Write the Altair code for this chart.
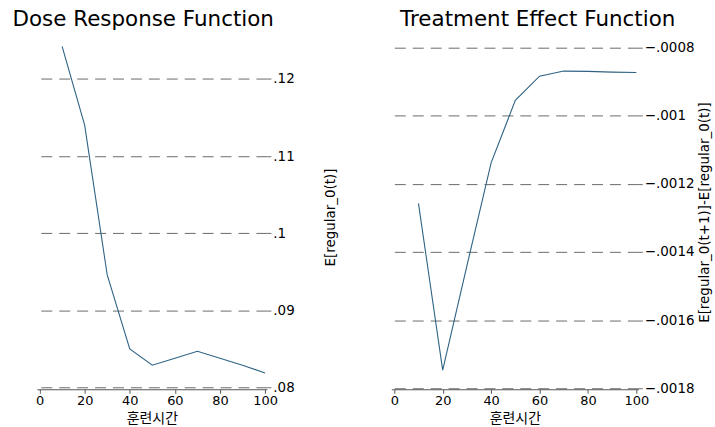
import altair as alt
import pandas as pd

# training hours (x) and estimated responses
hours = [10, 20, 30, 40, 50, 60, 70, 80, 90, 100]
dose_response = [0.1242, 0.1140, 0.0946, 0.0850, 0.0829, 0.0838, 0.0847, 0.0838, 0.0829, 0.0819]
treatment_effect = [-0.001258, -0.001747, -0.001441, -0.001139, -0.000956,
                    -0.000885, -0.000870, -0.000871, -0.000873, -0.000874]

x_ticks = [0, 20, 40, 60, 80, 100]
dose_ticks = [0.08, 0.09, 0.10, 0.11, 0.12]
effect_ticks = [-0.0018, -0.0016, -0.0014, -0.0012, -0.0010, -0.0008]

df = pd.DataFrame({"t": hours, "dose": dose_response, "effect": treatment_effect})

FONT = "DejaVu Sans"
LINE = "#2f6385"
GRID = "#6a6a6a"
LABEL_EXPR = "replace(format(datum.value, '.4~f'), '0.', '.')"


def x_enc():
    return alt.X(
        "t:Q",
        scale=alt.Scale(domain=[-1.2, 100.8], nice=False, zero=False),
        axis=alt.Axis(
            values=x_ticks, title="훈련시간", grid=False,
            domainColor="#555555", tickColor="#555555", tickSize=4,
            labelPadding=1, labelFontSize=13, labelFont=FONT, labelColor="#000000",
            titleFont="Noto Sans CJK KR", titleFontSize=14, titleFontWeight="normal",
            titlePadding=4, titleColor="#000000",
        ),
    )


def y_axis(ticks, title, tx, ty):
    return alt.Axis(
        orient="right", values=ticks, labelExpr=LABEL_EXPR, title=title,
        grid=True, gridColor=GRID, gridDash=[11, 7], gridWidth=1,
        domain=False, tickColor=GRID, tickSize=4, labelPadding=2,
        labelFont=FONT, labelFontSize=13.5, labelColor="#000000",
        titleFont=FONT, titleFontSize=13.5, titleFontWeight="normal", titleColor="#000000",
        titleAngle=270, titleAlign="center", titleBaseline="middle",
        titleX=tx, titleY=ty,
    )


left = alt.Chart(df).mark_line(color=LINE, strokeWidth=1.1).encode(
    x=x_enc(),
    y=alt.Y(
        "dose:Q",
        scale=alt.Scale(domain=[0.079781, 0.124942], nice=False, zero=False),
        axis=y_axis(dose_ticks, "E[regular_0(t)]", 64, 177),
    ),
).properties(
    width=231, height=350,
    title=alt.TitleParams("Dose Response Function", anchor="start", dx=-23,
                          font=FONT, fontSize=21.5, fontWeight="normal",
                          color="#000000", offset=10),
)

right = alt.Chart(df).mark_line(color=LINE, strokeWidth=1.1).encode(
    x=x_enc(),
    y=alt.Y(
        "effect:Q",
        scale=alt.Scale(domain=[-0.0018029, -0.000781], nice=False, zero=False),
        axis=y_axis(effect_ticks, "E[regular_0(t+1)]-E[regular_0(t)]", 66, 172),
    ),
).properties(
    width=248, height=350,
    title=alt.TitleParams("Treatment Effect Function", anchor="start", dx=10,
                          font=FONT, fontSize=21.5, fontWeight="normal",
                          color="#000000", offset=10),
)

chart = alt.hconcat(left, right, spacing=125, bounds="flush").properties(
    padding={"left": 12, "top": 8, "right": 4, "bottom": 0},
    background="white",
).configure_view(stroke=None)

chart.save("out.html", embed_options={"renderer": "svg", "actions": False})
